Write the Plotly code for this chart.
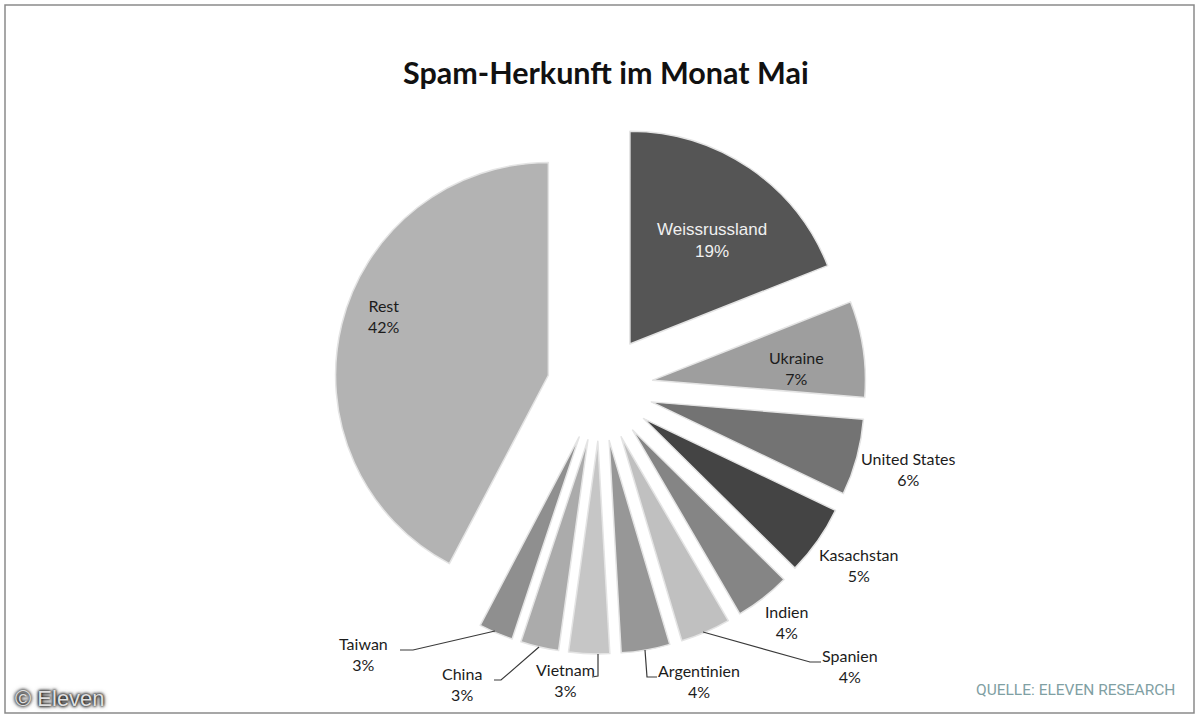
"""
Spam-Herkunft im Monat Mai: explodierte Kreisgrafik in Graustufen.
"""

import plotly.graph_objects as go

WIDTH = 1200
HEIGHT = 720

countries = ["Weissrussland", "Ukraine", "United States", "Kasachstan", "Indien", "Spanien",
             "Argentinien", "Vietnam", "China", "Taiwan", "Rest"]
# the labels show them rounded
shares = [19, 7.3, 5.8, 5.3, 4.2, 3.8, 3.7, 3.1, 2.9, 2.6, 42.3]

grays = ["#555555", "#9e9e9e", "#737373", "#444444", "#858585", "#c0c0c0",
         "#979797", "#c6c6c6", "#ababab", "#8f8f8f", "#b3b3b3"]

# label centres in pixels, top-left origin
label_pos = {
    "Weissrussland": (712, 241), "Ukraine": (796, 368), "United States": (909, 469),
    "Kasachstan": (859, 565), "Indien": (786, 622), "Spanien": (850, 666),
    "Argentinien": (699, 681), "Vietnam": (565, 680), "China": (462, 684),
    "Taiwan": (363, 654), "Rest": (384, 316),
}

leaders = [
    [(400, 650), (413, 650), (495, 631)],
    [(494, 680), (501, 680), (539, 647)],
    [(592, 677), (598, 676), (598, 654)],
    [(645, 650), (647, 677), (657, 677)],
    [(703, 632), (810, 662), (821, 662)],
]


def px_x(x):
    return x / WIDTH


def px_y(y):
    return 1 - y / HEIGHT


fig = go.Figure(
    go.Pie(
        labels=countries,
        values=shares,
        sort=False,
        direction="clockwise",
        rotation=0,
        pull=0.25,
        textinfo="none",
        hoverinfo="label+percent",
        showlegend=False,
        marker=dict(colors=grays, line=dict(color="#e4e4e4", width=1.5)),
        # pie radius 213 px plus pull, centred on (600, 388)
        domain=dict(x=[px_x(334), px_x(866)], y=[px_y(654), px_y(122)]),
    )
)

annotations = []
for name, share in zip(countries, shares):
    x, y = label_pos[name]
    dark = name == "Weissrussland"
    annotations.append(dict(
        x=px_x(x), y=px_y(y), xref="paper", yref="paper", xanchor="center", yanchor="middle",
        text=f"{name}<br>{share:.0f}%", showarrow=False, align="center",
        font=dict(family="Liberation Sans" if dark else "Lato",
                  size=17 if dark else 16,
                  color="#f0f0f0" if dark else "#1c1c1c"),
    ))

annotations.append(dict(
    x=px_x(606), y=px_y(72), xref="paper", yref="paper", xanchor="center", yanchor="middle",
    text="<b>Spam-Herkunft im Monat Mai</b>", showarrow=False,
    font=dict(family="Lato", size=30.5, color="#111111"),
))
annotations.append(dict(
    x=px_x(1177), y=px_y(690), xref="paper", yref="paper", xanchor="right", yanchor="middle",
    text="QUELLE: ELEVEN RESEARCH", showarrow=False,
    font=dict(family="Roboto", size=15.5, color="#7fa0a3"),
))
annotations.append(dict(
    x=px_x(13), y=px_y(698), xref="paper", yref="paper", xanchor="left", yanchor="middle",
    text="© Eleven", showarrow=False,
    font=dict(family="Liberation Sans", size=22, color="#e0e0e0",
              shadow="0 0 3px #111111, 0 0 3px #111111, 0 0 5px #333333"),
))

shapes = [dict(
    type="rect", xref="paper", yref="paper",
    x0=px_x(5), x1=px_x(1194), y0=px_y(713), y1=px_y(5),
    line=dict(color="#8a8a8a", width=1.5),
)]
for pts in leaders:
    path = "M " + " L ".join(f"{px_x(x)} {px_y(y)}" for x, y in pts)
    shapes.append(dict(type="path", xref="paper", yref="paper", path=path,
                       line=dict(color="#3a3a3a", width=1.2)))

fig.update_layout(
    width=WIDTH,
    height=HEIGHT,
    margin=dict(l=0, r=0, t=0, b=0),
    paper_bgcolor="white",
    annotations=annotations,
    shapes=shapes,
)

fig.write_html("out.html", config={"displayModeBar": False},
               post_script="document.body.style.margin = '0';")
